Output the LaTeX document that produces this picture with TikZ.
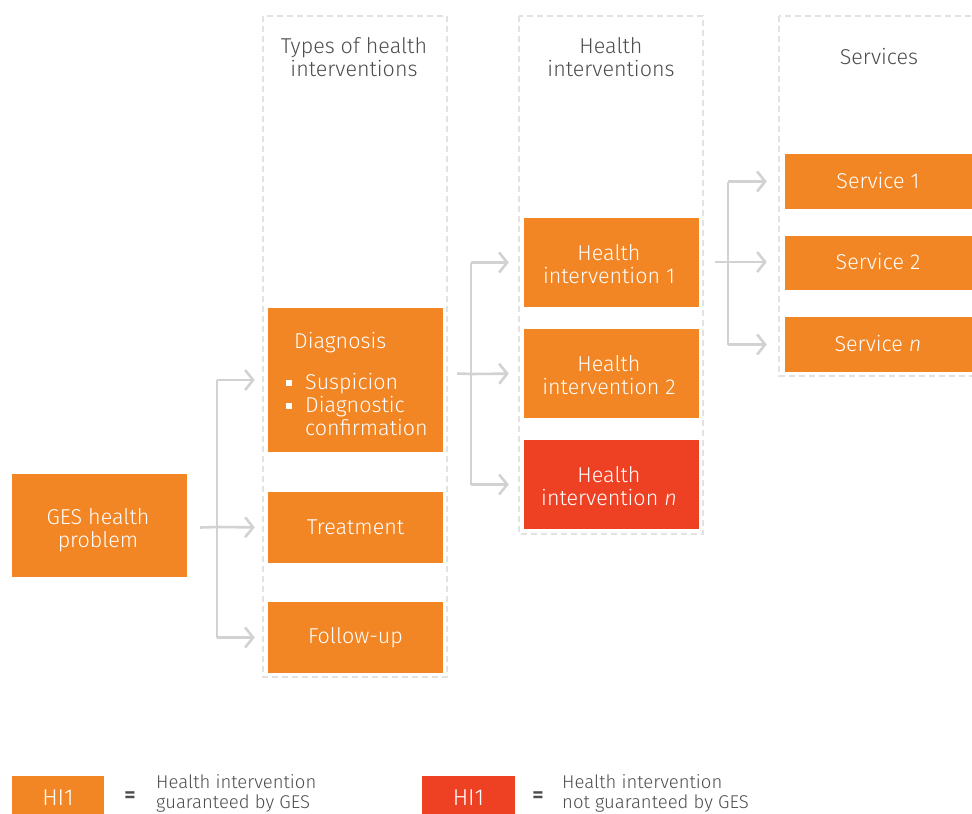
\documentclass[tikz,border=0pt]{standalone}
\usepackage{fontspec}
\setmainfont{Fira Sans Light}
\usetikzlibrary{arrows.meta}
\definecolor{orng}{HTML}{F28524}
\definecolor{rd}{HTML}{EE4124}
\definecolor{lgray}{HTML}{D2D2D2}
\definecolor{dgray}{HTML}{E2E2E2}
\definecolor{tgray}{HTML}{4D4D4D}
\newcommand{\bx}{\fontsize{21.5}{23.5}\selectfont}
\tikzset{
  box/.style={fill=orng, text=white, inner sep=0pt, align=center, font=\bx},
  redbox/.style={box, fill=rd},
  wtxt/.style={text=white, inner sep=0pt, align=center, font=\bx},
  lane/.style={draw=dgray, line width=2.5pt, dash pattern=on 6pt off 4pt},
  head/.style={text=tgray, align=center, font=\fontsize{21.5}{23}\selectfont},
  conn/.style={draw=lgray, line width=2.6pt},
  arr/.style={conn, -{Straight Barb[length=8pt,width=20pt,line width=2.6pt]}},
  leg/.style={text=tgray, align=left, font=\fontsize{18.5}{20}\selectfont},
}
\begin{document}
\begin{tikzpicture}[x=1pt,y=-1pt]
\useasboundingbox (0,0) rectangle (972,814);
% lanes
\draw[lane] (263,16) rectangle (447,677);
\draw[lane] (519,16) rectangle (703,534);
\draw[lane] (779,16) rectangle (985,376);
\node[head] (h1) at (354,57) {Types of health\\interventions};
\node[head] (h2) at (611,57) {Health\\interventions};
\node[head] (h3) at (879,57) {Services};
% boxes
\node[box, minimum width=175pt, minimum height=103pt] (ges) at (99.5,525.5) {};
\node[wtxt] (gest) at (98,530) {GES health\\problem};
\node[box, minimum width=175pt, minimum height=144pt] (diag) at (355.5,380) {};
\node[wtxt, anchor=base west] (dt) at (294,348) {Diagnosis};
\fill[white] (286,380) rectangle (292,386);
\fill[white] (286,403) rectangle (292,409);
\node[wtxt, anchor=base west] (d1) at (305,389) {Suspicion};
\node[wtxt, anchor=base west] (d2) at (305,412) {Diagnostic};
\node[wtxt, anchor=base west] (d3) at (305,435) {confirmation};
\node[box, minimum width=175pt, minimum height=71pt] (treat) at (355.5,527.5) {Treatment};
\node[box, minimum width=175pt, minimum height=71pt] (follow) at (355.5,637.5) {Follow-up};
\node[box, minimum width=175pt, minimum height=89pt] (hi1) at (611.5,262.5) {};
\node[wtxt] (hi1t) at (609,264) {Health\\intervention 1};
\node[box, minimum width=175pt, minimum height=89pt] (hi2) at (611.5,373.5) {};
\node[wtxt] (hi2t) at (609,375) {Health\\intervention 2};
\node[redbox, minimum width=175pt, minimum height=89pt] (hin) at (611.5,484.5) {};
\node[wtxt] (hint) at (609,486) {Health\\intervention \textit{n}};
\node[box, minimum width=200pt, minimum height=55pt] (s1) at (885,181.5) {};
\node[wtxt] (s1t) at (878,180.5) {Service 1};
\node[box, minimum width=200pt, minimum height=54pt] (s2) at (885,263) {};
\node[wtxt] (s2t) at (878,262) {Service 2};
\node[box, minimum width=200pt, minimum height=55pt] (sn) at (885,344.5) {};
\node[wtxt] (snt) at (878,343.5) {Service \textit{n}};
% connectors 1
\coordinate (j1) at (217,527);
\draw[conn] ([xshift=13pt]ges.east |- treat.west) -- (j1);
\draw[conn] (j1 |- diag.west) -- (j1 |- follow.west);
\draw[arr, shorten >=13pt] (j1 |- diag.west) -- (diag.west);
\draw[arr, shorten >=13pt] (j1) -- (treat.west);
\draw[arr, shorten >=13pt] (j1 |- follow.west) -- (follow.west);
% connectors 2
\coordinate (j2) at (471,374);
\draw[conn] ([xshift=14pt]diag.east |- hi2.west) -- (j2);
\draw[conn] (j2 |- hi1.west) -- (j2 |- hin.west);
\draw[arr, shorten >=15pt] (j2 |- hi1.west) -- (hi1.west);
\draw[arr, shorten >=15pt] (j2) -- (hi2.west);
\draw[arr, shorten >=15pt] (j2 |- hin.west) -- (hin.west);
% connectors 3
\coordinate (j3) at (728,262);
\draw[conn] ([xshift=16pt]hi1.east |- j3) -- (j3);
\draw[conn] (j3 |- s1.west) -- (j3 |- sn.west);
\draw[arr, shorten >=18pt] (j3 |- s1.west) -- (s1.west);
\draw[arr, shorten >=18pt] (j3) -- (j3 -| s2.west);
\draw[arr, shorten >=18pt] (j3 |- sn.west) -- (sn.west);
% legend
\node[box, minimum width=92pt, minimum height=44pt, font=\fontsize{23}{24}\selectfont] (l1) at (58,798) {HI1};
\node[text=tgray, font=\fontseries{sb}\fontsize{22}{22}\selectfont] (e1) at (130,797) {=};
\node[leg, anchor=north west, inner sep=0pt] (t1) at (156,774) {Health intervention\\guaranteed by GES};
\node[redbox, minimum width=93pt, minimum height=44pt, font=\fontsize{23}{24}\selectfont] (l2) at (468.5,798) {HI1};
\node[text=tgray, font=\fontseries{sb}\fontsize{22}{22}\selectfont] (e2) at (538,797) {=};
\node[leg, anchor=north west, inner sep=0pt] (t2) at (562,774) {Health intervention\\not guaranteed by GES};
\end{tikzpicture}
\end{document}
